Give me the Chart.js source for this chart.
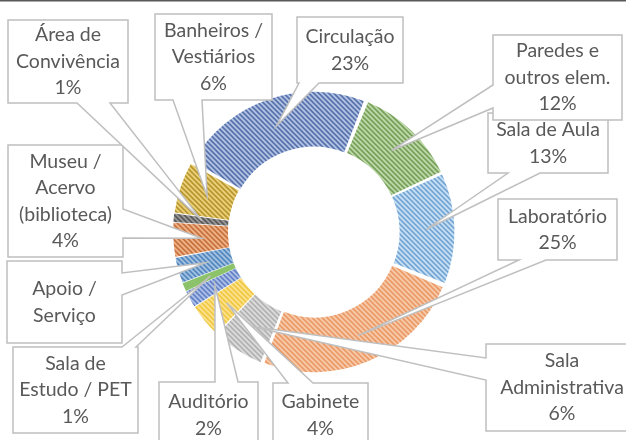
<!DOCTYPE html>
<html>
<head>
<meta charset="utf-8">
<script src="https://cdn.jsdelivr.net/npm/chart.js@4.4.0/dist/chart.umd.min.js"></script>
<style>
html, body { margin: 0; padding: 0; background: #fff; }
#wrap { width: 626px; height: 440px; }
</style>
</head>
<body>
<div id="wrap"><canvas id="chart" width="626" height="440"></canvas></div>
<script>
// dados (ordem horária, a partir de "Paredes")
const categories = ['Paredes e\noutros elem.', 'Sala de Aula', 'Laboratório', 'Sala\nAdministrativa',
    'Gabinete', 'Auditório', 'Sala de\nEstudo / PET', 'Apoio /\nServiço',
    'Museu /\nAcervo\n(biblioteca)', 'Área de\nConvivência', 'Banheiros /\nVestiários', 'Circulação'];
const values = [12, 13, 25, 6, 4, 2, 1, 3, 4, 1, 6, 23];
const showPct = [true, true, true, true, true, true, true, false, true, true, true, true];

// cores: fundo claro + linhas da hachura
const fills = ['#cbe3b8', '#c8e1f6', '#f9d0b2', '#e2e2e2', '#ffe79a', '#b9caee',
    '#8cc269', '#abc9e8', '#f3b58c', '#9c9c9c', '#f0d780', '#bccbeb'];
const lines = ['#5a8838', '#6499cc', '#e68a50', '#a2a2a2', '#ebbd26', '#4669b8',
    '#8cc269', '#3a73b0', '#bb622a', '#4a4a4a', '#a8841a', '#3b5a99'];

// caixas dos rótulos (posição da caixa e da base da seta)
const callouts = [
    { i: 1, box: [488, 113, 120, 60], edge: 'bottom', a: 508, b: 540 },
    { i: 0, box: [493, 35, 129, 85], edge: 'left', a: 85, b: 108 },
    { i: 2, box: [498, 199, 119, 61], edge: 'bottom', a: 519, b: 546 },
    { i: 3, box: [486, 344, 152, 87], edge: 'left', a: 358, b: 380 },
    { i: 4, box: [273, 383, 95, 64], edge: 'top', a: 288, b: 313 },
    { i: 5, box: [159, 382, 99, 66], edge: 'top', a: 215, b: 238 },
    { i: 6, box: [13, 347, 125, 86], edge: 'top', a: 122, b: 136 },
    { i: 7, box: [7, 261, 115, 82], edge: 'right', a: 273, b: 295 },
    { i: 8, box: [8, 145, 115, 112], edge: 'right', a: 209, b: 238 },
    { i: 9, box: [8, 20, 120, 83], edge: 'bottom', a: 77, b: 110 },
    { i: 10, box: [155, 14, 117, 86], edge: 'bottom', a: 173, b: 202 },
    { i: 11, box: [297, 17, 106, 66], edge: 'bottom', a: 299, b: 319 }
];

function hatch(bg, fg) {
    const s = 5;
    const c = document.createElement('canvas');
    c.width = s; c.height = s;
    const p = c.getContext('2d');
    p.fillStyle = bg;
    p.fillRect(0, 0, s, s);
    if (bg === fg) return p.createPattern(c, 'repeat');
    p.strokeStyle = fg;
    p.lineWidth = 1.5;
    p.beginPath();
    p.moveTo(-1, -1); p.lineTo(s + 1, s + 1);
    p.moveTo(-1, s - 1); p.lineTo(1, s + 1);
    p.moveTo(s - 1, -1); p.lineTo(s + 1, 1);
    p.stroke();
    return p.createPattern(c, 'repeat');
}

const patterns = fills.map((f, k) => hatch(f, lines[k]));

const calloutPlugin = {
    id: 'callouts',
    afterDraw(chart) {
        const ctx = chart.ctx;
        const meta = chart.getDatasetMeta(0);
        ctx.save();
        // linha no topo
        ctx.fillStyle = '#595959';
        ctx.fillRect(0, 0, 626, 1.5);

        callouts.forEach(function (c) {
            const arc = meta.data[c.i];
            const p = arc.getProps(['x', 'y', 'startAngle', 'endAngle', 'innerRadius', 'outerRadius'], true);
            const mid = (p.startAngle + p.endAngle) / 2;
            const r = (p.innerRadius + p.outerRadius) / 2 + (arc.options.offset || 0);
            const tx = p.x + Math.cos(mid) * r;
            const ty = p.y + Math.sin(mid) * r;
            const [x, y, w, h] = c.box;
            let pts;
            if (c.edge === 'top') {
                pts = [[x, y], [c.a, y], [tx, ty], [c.b, y], [x + w, y], [x + w, y + h], [x, y + h]];
            } else if (c.edge === 'right') {
                pts = [[x, y], [x + w, y], [x + w, c.a], [tx, ty], [x + w, c.b], [x + w, y + h], [x, y + h]];
            } else if (c.edge === 'bottom') {
                pts = [[x, y], [x + w, y], [x + w, y + h], [c.b, y + h], [tx, ty], [c.a, y + h], [x, y + h]];
            } else {
                pts = [[x, y], [x + w, y], [x + w, y + h], [x, y + h], [x, c.b], [tx, ty], [x, c.a]];
            }
            ctx.beginPath();
            pts.forEach(function (pt, k) {
                if (k === 0) ctx.moveTo(pt[0], pt[1]); else ctx.lineTo(pt[0], pt[1]);
            });
            ctx.closePath();
            ctx.fillStyle = '#ffffff';
            ctx.fill();
            ctx.strokeStyle = '#bfbfbf';
            ctx.lineWidth = 1.5;
            ctx.lineJoin = 'miter';
            ctx.stroke();

            const txt = categories[c.i].split('\n');
            if (showPct[c.i]) txt.push(values[c.i] + '%');
            const lh = 26.5;
            const cx = x + w / 2;
            const cy = y + h / 2 - (txt.length - 1) * lh / 2;
            ctx.fillStyle = '#595959';
            ctx.font = '19.5px Lato';
            ctx.textAlign = 'center';
            ctx.textBaseline = 'middle';
            txt.forEach(function (t, k) {
                ctx.fillText(t, cx, cy + k * lh);
            });
        });
        ctx.restore();
    }
};

const ctx = document.getElementById('chart').getContext('2d');
const chart = new Chart(ctx, {
    type: 'doughnut',
    data: {
        labels: categories,
        datasets: [{
            data: values,
            backgroundColor: patterns,
            borderWidth: 0,
            offset: 3
        }]
    },
    options: {
        responsive: false,
        animation: false,
        rotation: 22,
        cutout: '60%',
        spacing: 5,
        layout: { padding: { left: 173, right: 171, top: 91, bottom: 67 } },
        plugins: {
            legend: { display: false },
            tooltip: { enabled: false }
        }
    },
    plugins: [calloutPlugin]
});
</script>
</body>
</html>
